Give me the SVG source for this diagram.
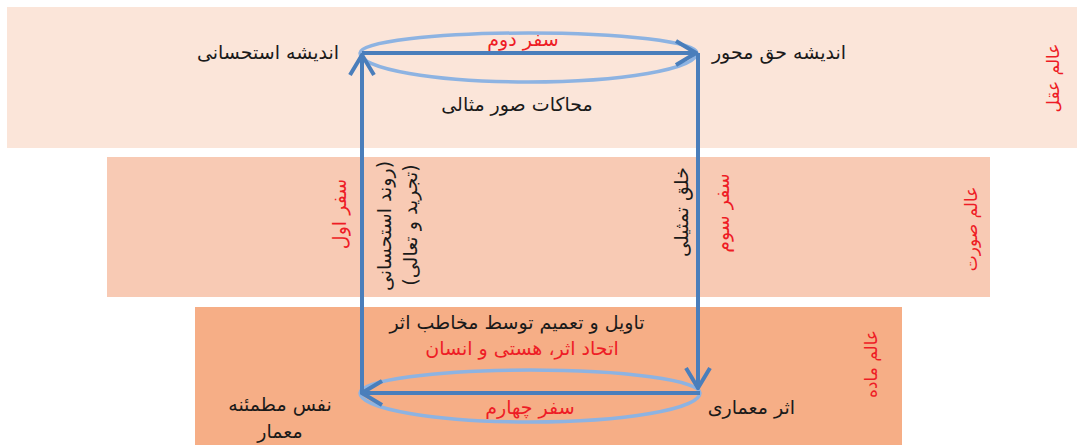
<svg xmlns="http://www.w3.org/2000/svg" width="1077" height="445" viewBox="0 0 1077 445">
  <defs>
    <style>
      .txt { font-family: "DejaVu Sans", "Noto Sans", sans-serif; font-size: 19px; fill: #1a1a1a; direction: rtl; }
      .red { fill: #ee1c25; }
      .world { font-size: 17px; }
      .path { fill: none; stroke: #4a7ebb; stroke-width: 4; }
      .ring { fill: none; stroke: #8db3e2; stroke-width: 3.5; }
    </style>
    <marker id="arrow" viewBox="0 0 24 28" refX="22" refY="14" markerWidth="24" markerHeight="28" markerUnits="userSpaceOnUse" orient="auto">
      <path d="M2,2 L22,14 L2,26" fill="none" stroke="#4a7ebb" stroke-width="4" stroke-linejoin="miter"/>
    </marker>
  </defs>

  <!-- world bands -->
  <g id="band-intellect"><rect x="7" y="7" width="1070" height="141" fill="#fbe5d9"/></g>
  <g id="band-form"><rect x="107" y="157" width="883" height="140" fill="#f8cab4"/></g>
  <g id="band-matter"><rect x="195" y="307" width="707" height="138" fill="#f6ae86"/></g>

  <!-- connectors: rings and the four journeys -->
  <g id="connectors">
    <path class="ring" d="M360,53 A168.5,20 0 0 1 697,53 A168.5,29 0 0 1 360,53 Z"/>
    <path class="ring" d="M360,393 A170,23 0 0 1 700,393 A170,29 0 0 1 360,393 Z"/>
    <line class="path" x1="362" y1="53" x2="696" y2="53" marker-end="url(#arrow)"/>
    <line class="path" x1="698" y1="53" x2="698" y2="388" marker-end="url(#arrow)"/>
    <line class="path" x1="700" y1="393" x2="362" y2="393" marker-end="url(#arrow)"/>
    <line class="path" x1="362" y1="393" x2="362" y2="55" marker-end="url(#arrow)"/>
  </g>

  <!-- world labels -->
  <g id="label-intellect"><text class="txt red world" transform="translate(1059,78) rotate(-90)" text-anchor="middle">عالم عقل</text></g>
  <g id="label-form"><text class="txt red world" transform="translate(977,229) rotate(-90)" text-anchor="middle">عالم صورت</text></g>
  <g id="label-matter"><text class="txt red world" transform="translate(877,364) rotate(-90)" text-anchor="middle">عالم ماده</text></g>

  <!-- corner nodes -->
  <g id="node-istehsani"><text class="txt" x="339" y="59" text-anchor="start">اندیشه استحسانی</text></g>
  <g id="node-haq"><text class="txt" x="846" y="59" text-anchor="start">اندیشه حق محور</text></g>
  <g id="node-athar"><text class="txt" x="795" y="414" text-anchor="start">اثر معماری</text></g>
  <g id="node-nafs">
    <text class="txt" x="280" y="411" text-anchor="middle">نفس مطمئنه</text>
    <text class="txt" x="280" y="438" text-anchor="middle">معمار</text>
  </g>

  <!-- journey labels -->
  <g id="journey-1">
    <text class="txt red" transform="translate(346,214) rotate(-90)" text-anchor="middle">سفر اول</text>
    <text class="txt" transform="translate(391,226) rotate(-90)" text-anchor="middle">(روند استحسانی</text>
    <text class="txt" transform="translate(417,225) rotate(-90)" text-anchor="middle">(تجرید و تعالی)</text>
  </g>
  <g id="journey-2">
    <text class="txt red" x="523" y="46" text-anchor="middle">سفر دوم</text>
    <text class="txt" x="517" y="111" text-anchor="middle">محاکات صور مثالی</text>
  </g>
  <g id="journey-3">
    <text class="txt" transform="translate(688,212) rotate(-90)" text-anchor="middle">خلق تمثیلی</text>
    <text class="txt red" transform="translate(729,213) rotate(-90)" text-anchor="middle">سفر سوم</text>
  </g>
  <g id="journey-4">
    <text class="txt" x="517" y="329" text-anchor="middle">تاویل و تعمیم توسط مخاطب اثر</text>
    <text class="txt red" x="522" y="355" text-anchor="middle">اتحاد اثر، هستی و انسان</text>
    <text class="txt red" x="530" y="414" text-anchor="middle">سفر چهارم</text>
  </g>
</svg>
